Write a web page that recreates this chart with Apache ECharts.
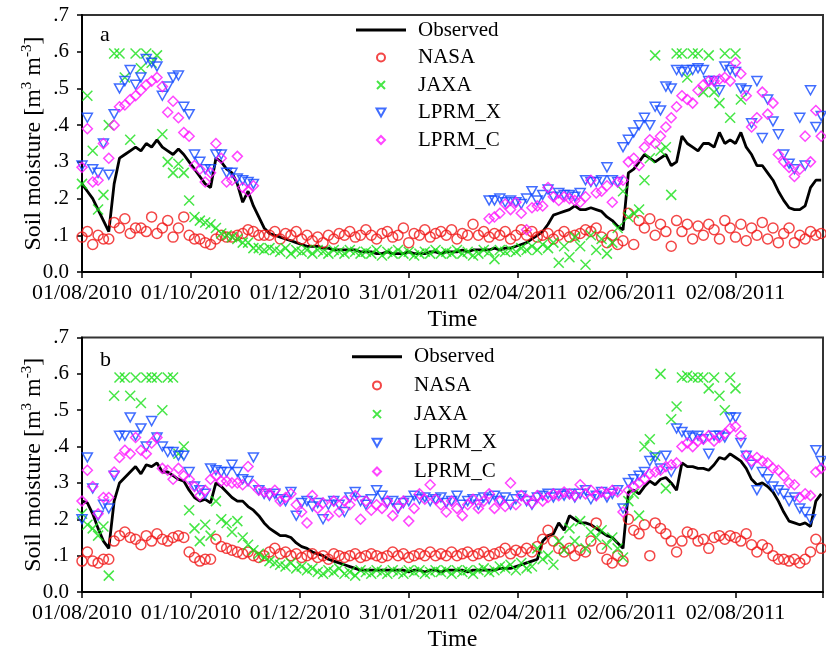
<!DOCTYPE html>
<html>
<head>
<meta charset="utf-8">
<script src="https://cdn.jsdelivr.net/npm/echarts@6/dist/echarts.min.js"></script>
<style>
  html, body { margin: 0; padding: 0; background: #fff; }
  #chart { width: 826px; height: 653px; }
</style>
</head>
<body>
<div id="chart"></div>
<script>
// Daily soil moisture, sampled every 3 days starting 01/08/2010 (day 0)
const STEP_DAYS = 3;
const TICK_DAYS = 61;
const tickLabels = ['01/08/2010', '01/10/2010', '01/12/2010', '31/01/2011', '02/04/2011', '02/06/2011', '02/08/2011'];
const yTickLabels = ['0.0', '.1', '.2', '.3', '.4', '.5', '.6', '.7'];
const seriesNames = ['Observed', 'NASA', 'JAXA', 'LPRM_X', 'LPRM_C'];

// ---- site a ----
const observedA = [
  .24,.22,.20,.17,.14,.11,.24,.31,.32,.33,
  .34,.33,.35,.34,.36,.34,.33,.32,.335,.32,
  .30,.28,.26,.24,.23,.31,.30,.28,.27,.24,
  .19,.22,.18,.15,.12,.105,.10,.095,.09,.085,
  .08,.075,.07,.07,.07,.065,.065,.06,.06,.06,
  .06,.06,.055,.055,.055,.05,.05,.055,.05,.05,
  .05,.055,.05,.05,.05,.055,.055,.05,.055,.055,
  .055,.06,.055,.06,.06,.06,.06,.065,.06,.065,
  .065,.07,.075,.08,.09,.10,.11,.13,.155,.16,
  .165,.17,.18,.17,.17,.175,.17,.165,.15,.14,
  .125,.115,.27,.28,.30,.32,.31,.30,.31,.32,
  .29,.30,.37,.35,.34,.33,.35,.35,.34,.38,
  .35,.36,.35,.38,.34,.32,.29,.29,.27,.25,
  .22,.195,.175,.17,.17,.18,.23,.25,.25
];
const nasaA = [
  .095,.11,.075,.10,.09,.09,.135,.12,.145,.105,
  .12,.12,.11,.15,.105,.12,.14,.095,.12,.15,
  .10,.09,.09,.08,.075,.09,.10,.095,.095,.10,
  .105,.115,.11,.10,.10,.10,.11,.09,.105,.10,
  .11,.09,.10,.085,.095,.08,.10,.09,.105,.10,
  .11,.095,.10,.115,.10,.09,.105,.11,.095,.10,
  .12,.08,.105,.10,.115,.095,.105,.11,.10,.115,
  .09,.105,.10,.13,.10,.11,.095,.105,.10,.11,
  .09,.10,.115,.10,.11,.095,.10,.105,.09,.10,
  .11,.095,.10,.105,.115,.11,.12,.095,.08,.10,
  .075,.085,.16,.075,.14,.12,.145,.10,.13,.11,
  .07,.14,.11,.13,.09,.125,.10,.13,.115,.09,
  .14,.12,.095,.13,.085,.12,.10,.135,.09,.12,
  .08,.105,.12,.08,.10,.09,.11,.10,.105
];
const jaxaA = [
  .24,.48,.33,.17,.21,.40,.595,.595,.53,.36,
  .595,.555,.595,.57,.59,.375,.30,.27,.295,.27,
  .195,.15,.14,.135,.13,.12,.105,.10,.095,.09,
  .08,.08,.065,.065,.06,.065,.06,.055,.065,.05,
  .06,.055,.06,.05,.06,.055,.05,.06,.055,.05,
  .06,.055,.05,.055,.05,.06,.045,.055,.05,.06,
  .05,.055,.045,.05,.055,.05,.06,.05,.055,.05,
  .06,.05,.055,.045,.05,.06,.055,.035,.06,.055,
  .06,.055,.065,.06,.07,.06,.075,.065,.08,.025,
  .07,.04,.095,.07,.02,.10,.06,.09,.05,.08,
  .12,.22,.15,.16,.17,.25,.31,.59,.33,.34,
  .21,.595,.595,.53,.595,.595,.49,.59,.49,.46,
  .595,.42,.595,.47,null,null,null,null,null,null,
  null,null,null,null,null,null,null,null,null
];
const lprmXA = [
  .29,.42,.28,.27,.35,.265,.43,.50,.52,.55,
  .51,.53,.58,.57,.56,.48,.505,.53,.535,.45,
  .43,.32,.30,.28,.28,.32,.32,.27,.27,.255,
  .25,.245,.24,null,null,null,null,null,null,null,
  null,null,null,null,null,null,null,null,null,null,
  null,null,null,null,null,null,null,null,null,null,
  null,null,null,null,null,null,null,null,null,null,
  null,null,null,null,null,null,.195,.195,.20,.19,
  .195,.19,.185,.20,.22,.195,.21,.225,.205,.215,
  .21,.21,.205,.215,.25,.245,.245,.25,.285,.25,
  .245,.34,.36,.38,.40,.42,.40,.45,.44,.505,
  .50,.55,.545,.55,.55,.555,.55,.52,.52,.495,
  .56,.55,.545,.50,.495,.405,.52,.365,.47,.41,
  .375,.32,.295,.28,.42,.29,.495,.395,.425
];
const lprmCA = [
  .285,.39,.245,.25,.35,.31,.40,.45,.455,.47,
  .48,.495,.51,.52,.53,.505,.435,.465,.42,.38,
  .37,.29,.28,.245,.27,.35,.31,.245,.25,.315,
  .23,.22,.235,null,null,null,null,null,null,null,
  null,null,null,null,null,null,null,null,null,null,
  null,null,null,null,null,null,null,null,null,null,
  null,null,null,null,null,null,null,null,null,null,
  null,null,null,null,null,null,.145,.15,.16,.185,
  .17,.19,.16,.115,.175,.18,.18,.23,.205,.195,
  .205,.20,.195,.19,.205,.25,.215,.22,.235,.19,
  .245,.25,.30,.31,.29,.34,.36,.35,.37,.395,
  .42,.45,.48,.47,.46,.495,.51,.52,.52,.525,
  .53,.52,.57,.54,.48,.395,.42,.49,.43,.46,
  .32,.30,.285,.26,.28,.37,.30,.44,.37
];

// ---- site b ----
const observedB = [
  .25,.245,.215,.175,.14,.12,.25,.30,.315,.33,
  .345,.325,.35,.345,.355,.33,.33,.32,.31,.305,
  .28,.26,.25,.255,.245,.30,.29,.275,.26,.25,
  .25,.235,.225,.21,.19,.175,.165,.155,.155,.15,
  .135,.125,.12,.11,.105,.10,.09,.085,.08,.075,
  .07,.065,.06,.06,.06,.06,.06,.06,.06,.06,
  .06,.055,.06,.06,.055,.06,.06,.055,.06,.06,
  .06,.06,.055,.06,.06,.06,.06,.06,.065,.065,
  .065,.07,.075,.08,.085,.09,.14,.155,.16,.19,
  .17,.21,.20,.19,.19,.185,.175,.165,.155,.15,
  .135,.12,.275,.28,.27,.29,.305,.295,.31,.315,
  .30,.28,.355,.345,.345,.34,.34,.335,.35,.37,
  .365,.38,.37,.36,.34,.31,.295,.30,.29,.275,
  .25,.22,.195,.19,.185,.19,.18,.25,.27
];
const nasaB = [
  .085,.11,.085,.08,.09,.09,.14,.155,.165,.15,
  .145,.13,.155,.14,.16,.145,.14,.15,.155,.15,
  .11,.095,.085,.09,.09,.145,.125,.12,.115,.11,
  .105,.11,.10,.095,.10,.11,.12,.105,.11,.10,
  .105,.095,.10,.105,.095,.10,.09,.105,.10,.095,
  .10,.105,.095,.10,.105,.10,.095,.10,.11,.10,
  .105,.095,.10,.105,.10,.11,.10,.105,.10,.11,
  .10,.105,.11,.10,.105,.11,.10,.105,.11,.12,
  .105,.115,.11,.12,.11,.125,.145,.17,.14,.12,
  .11,.12,.10,.115,.11,.14,.19,.12,.09,.08,
  .10,.085,.20,.17,.16,.185,.10,.19,.175,.16,
  .14,.11,.14,.165,.16,.14,.145,.12,.15,.155,
  .145,.155,.15,.14,.16,.13,.11,.13,.12,.10,
  .09,.09,.085,.09,.08,.09,.11,.145,.12
];
const jaxaB = [
  .215,.185,.175,.155,.18,.045,.54,.59,.59,.54,
  .59,.52,.59,.59,.59,.50,.59,.59,.38,.40,
  .225,.175,.14,.185,.155,.25,.20,.19,.165,.195,
  .15,.13,.115,.105,.095,.085,.08,.075,.07,.08,
  .065,.07,.06,.065,.055,.05,.06,.055,.065,.05,
  .055,.045,.06,.055,.05,.06,.055,.05,.06,.055,
  .05,.06,.055,.06,.05,.055,.06,.055,.06,.05,
  .06,.055,.06,.05,.06,.065,.055,.06,.07,.065,
  .075,.06,.08,.065,.07,.12,.09,.10,.075,.14,
  .115,.175,.14,.195,.12,.165,.15,.17,.13,.15,
  .12,.095,.25,.27,.21,.40,.42,.375,.60,.285,
  .475,.51,.59,.595,.59,.59,.59,.56,.59,.54,
  .50,.59,.56,null,null,null,null,null,null,null,
  null,null,null,null,null,null,null,null,null
];
const lprmXB = [
  .20,.37,.285,.21,.24,.23,.32,.43,.43,.48,
  .43,.45,.40,.47,.425,.40,.385,.385,.375,.375,
  .33,.29,.28,.27,.34,.335,.33,.33,.35,.33,
  .31,.305,.37,.28,.27,.265,.27,.255,.25,.275,
  .21,.245,.25,.235,.245,.20,.24,.25,.24,.22,
  .26,.275,.25,.24,.255,.28,.265,.245,.25,.23,
  .245,.25,.265,.255,.26,.25,.255,.26,.245,.25,
  .265,.24,.25,.255,.24,.26,.255,.265,.25,.26,
  .24,.255,.265,.25,.24,.26,.265,.27,.26,.27,
  .265,.27,.26,.27,.28,.255,.265,.275,.26,.27,
  .28,.23,.30,.31,.32,.33,.36,.37,.34,.375,
  .33,.45,.44,.43,.425,.43,.42,.38,.43,.43,
  .425,.48,.48,.41,.375,.35,.28,.33,.31,.29,
  .28,.27,.25,.26,.23,.22,.20,.39,.36
];
const lprmCB = [
  .25,.335,.29,.215,.26,.26,.33,.37,.39,.38,
  .425,.39,.38,.41,.425,.34,.335,.31,.34,.32,
  .31,.29,.265,.28,.31,.32,.305,.305,.30,.30,
  .295,.345,.295,.28,.275,.27,.28,.25,.26,.27,
  .24,.22,.19,.265,.23,.245,.21,.25,.22,.25,
  .24,.265,.20,.25,.225,.24,.23,.25,.21,.235,
  .25,.195,.23,.27,.255,.295,.255,.24,.22,.25,
  .23,.21,.24,.255,.23,.25,.27,.23,.25,.235,
  .30,.24,.265,.255,.245,.265,.25,.26,.27,.265,
  .275,.27,.265,.295,.27,.28,.265,.275,.27,.28,
  .275,.22,.28,.29,.30,.31,.325,.33,.335,.345,
  .35,.355,.40,.41,.40,.415,.42,.43,.415,.425,
  .435,.45,.455,.43,.375,.36,.37,.36,.355,.34,
  .335,.32,.30,.295,.26,.27,.265,.33,.34
];

const FONT = 'Liberation Serif';
const COLORS = { obs: '#000000', nasa: '#f01818', jaxa: '#18e018', lprmX: '#1048ff', lprmC: '#ff18ff' };
const SYMBOLS = {
  obs: 'path://M0,0L50,0L50,3L0,3Z',
  nasa: 'circle',
  jaxa: 'path://M0,0L10,10M0,10L10,0',
  lprmX: 'path://M0,0L10,0L5,9Z',
  lprmC: 'path://M5,0L10,5L5,10L0,5Z'
};

function toPoints(values) {
  return values.map((v, i) => [i * STEP_DAYS, v]);
}

function lineSeries(name, values, gi) {
  return {
    name, type: 'line', xAxisIndex: gi, yAxisIndex: gi,
    data: toPoints(values), showSymbol: false, symbol: 'none',
    lineStyle: { color: COLORS.obs, width: 2.8 },
    itemStyle: { color: COLORS.obs },
    z: 2
  };
}

function scatterSeries(name, key, values, gi, size) {
  return {
    name, type: 'scatter', xAxisIndex: gi, yAxisIndex: gi,
    data: toPoints(values),
    symbol: SYMBOLS[key], symbolSize: size, symbolKeepAspect: true,
    itemStyle: { color: 'rgba(0,0,0,0)', borderColor: COLORS[key], borderWidth: 1.5 },
    z: 3
  };
}

function xAxisFor(gi) {
  return {
    type: 'value', gridIndex: gi, min: 0, max: 415, interval: TICK_DAYS,
    name: 'Time', nameLocation: 'middle', nameGap: 36,
    nameTextStyle: { fontFamily: FONT, fontSize: 24, color: '#000' },
    axisLine: { lineStyle: { color: '#000', width: 2 } },
    axisTick: { show: true, length: 6, lineStyle: { color: '#000', width: 1.5 } },
    axisLabel: {
      fontFamily: FONT, fontSize: 22, color: '#000', margin: 10,
      formatter: v => tickLabels[Math.round(v / TICK_DAYS)] || ''
    },
    splitLine: { show: false }
  };
}

function yAxisFor(gi) {
  return {
    type: 'value', gridIndex: gi, min: 0, max: 0.7, interval: 0.1,
    name: 'Soil moisture [m{sup|3} m{sup|-3}]', nameLocation: 'middle', nameGap: 34,
    nameMoveOverlap: false,
    nameTextStyle: {
      fontFamily: FONT, fontSize: 24, color: '#000',
      rich: { sup: { fontFamily: FONT, fontSize: 15, color: '#000', verticalAlign: 'top', lineHeight: 28 } }
    },
    axisLine: { show: true, lineStyle: { color: '#000', width: 2 } },
    axisTick: { show: true, length: 5, lineStyle: { color: '#000', width: 1.5 } },
    axisLabel: {
      fontFamily: FONT, fontSize: 21, color: '#000', margin: 13,
      formatter: v => yTickLabels[Math.round(v * 10)]
    },
    splitLine: { show: false }
  };
}

const legendItems = [
  { name: 'Observed', icon: SYMBOLS.obs },
  { name: 'NASA', icon: SYMBOLS.nasa },
  { name: 'JAXA', icon: SYMBOLS.jaxa },
  { name: 'LPRM_X', icon: SYMBOLS.lprmX },
  { name: 'LPRM_C', icon: SYMBOLS.lprmC }
];

function legendFor(top, gap, left) {
  return {
    orient: 'vertical', left, top, padding: 0,
    itemWidth: 50, itemHeight: 8, itemGap: gap,
    symbolKeepAspect: true,
    data: legendItems,
    textStyle: { fontFamily: FONT, fontSize: 21, color: '#000', lineHeight: 22, padding: [0, 0, 0, 7] },
    selectedMode: false
  };
}

const chart = echarts.init(document.getElementById('chart'), null, { renderer: 'canvas' });
chart.setOption({
  animation: false,
  backgroundColor: '#fff',
  grid: [
    { left: 82, right: -4, top: 15, height: 257, show: true, borderColor: '#333', borderWidth: 2, backgroundColor: 'transparent' },
    { left: 82, right: -4, top: 337.5, height: 257, show: true, borderColor: '#333', borderWidth: 2, backgroundColor: 'transparent' }
  ],
  xAxis: [xAxisFor(0), xAxisFor(1)],
  yAxis: [yAxisFor(0), yAxisFor(1)],
  legend: [legendFor(19, 5.5, 356), legendFor(345.7, 6.7, 352)],
  graphic: [
    { type: 'text', left: 100, top: 24, style: { text: 'a', font: '22px "Liberation Serif"', fill: '#000' } },
    { type: 'text', left: 100, top: 349, style: { text: 'b', font: '22px "Liberation Serif"', fill: '#000' } }
  ],
  series: [
    lineSeries('Observed', observedA, 0),
    scatterSeries('NASA', 'nasa', nasaA, 0, 10),
    scatterSeries('JAXA', 'jaxa', jaxaA, 0, 10),
    scatterSeries('LPRM_X', 'lprmX', lprmXA, 0, 10),
    scatterSeries('LPRM_C', 'lprmC', lprmCA, 0, 10),
    lineSeries('Observed', observedB, 1),
    scatterSeries('NASA', 'nasa', nasaB, 1, 10),
    scatterSeries('JAXA', 'jaxa', jaxaB, 1, 10),
    scatterSeries('LPRM_X', 'lprmX', lprmXB, 1, 10),
    scatterSeries('LPRM_C', 'lprmC', lprmCB, 1, 10)
  ]
});
</script>
</body>
</html>
